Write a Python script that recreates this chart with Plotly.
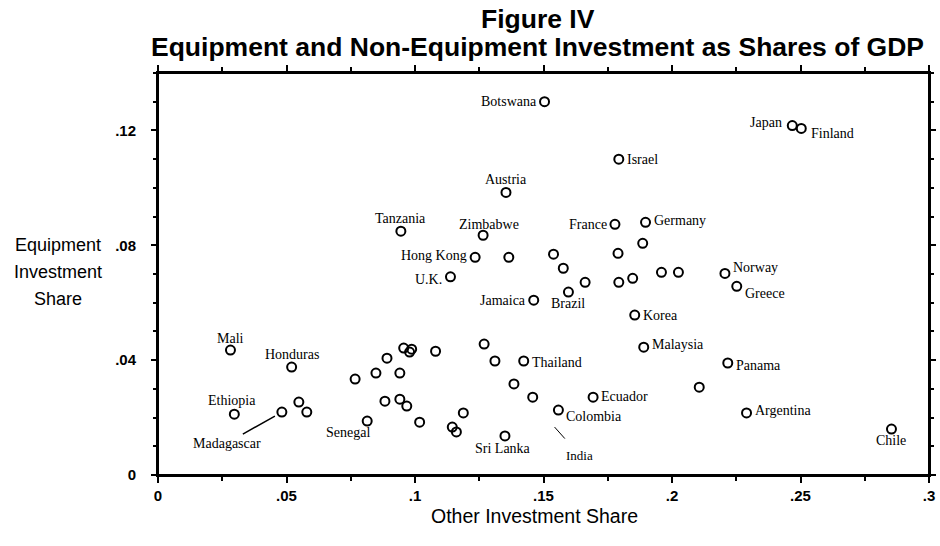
import plotly.graph_objects as go

# ---- data ----
countries = ["Botswana", "Japan", "Finland", "Israel", "Austria", "Tanzania", "Zimbabwe",
             "France", "Germany", "", "", "", "Hong Kong", "", "", "", "", "Norway", "U.K.",
             "", "", "", "Greece", "Brazil", "Jamaica", "Korea", "Malaysia", "Thailand",
             "Panama", "", "Ecuador", "", "Colombia", "Argentina", "Chile", "Sri Lanka",
             "Mali", "Honduras", "Ethiopia", "Madagascar", "", "", "", "", "", "", "", "",
             "", "", "", "", "", "Senegal", "", "", "", "", "", "", ""]
other_share = [0.1504, 0.2468, 0.2503, 0.1793, 0.1354, 0.0945, 0.1265,
               0.1778, 0.1897, 0.1886, 0.1790, 0.1539, 0.1234, 0.1365, 0.1577, 0.1959, 0.2025, 0.2206, 0.1138,
               0.1662, 0.1793, 0.1847, 0.2252, 0.1597, 0.1462, 0.1855, 0.1890, 0.1423,
               0.2217, 0.2106, 0.1693, 0.1458, 0.1558, 0.2290, 0.2854, 0.1350,
               0.0282, 0.0520, 0.0297, 0.0482, 0.0548, 0.0579, 0.0767, 0.0848, 0.0891, 0.0941, 0.0956, 0.0979,
               0.0987, 0.1080, 0.0883, 0.0941, 0.0968, 0.0814, 0.1018, 0.1145, 0.1161, 0.1188, 0.1269, 0.1311, 0.1385]
equip_share = [0.1300, 0.1217, 0.1207, 0.1100, 0.0984, 0.0849, 0.0835,
               0.0873, 0.0880, 0.0807, 0.0772, 0.0769, 0.0758, 0.0758, 0.0720, 0.0706, 0.0706, 0.0702, 0.0690,
               0.0671, 0.0671, 0.0685, 0.0657, 0.0637, 0.0609, 0.0557, 0.0445, 0.0397,
               0.0390, 0.0306, 0.0271, 0.0271, 0.0226, 0.0216, 0.0160, 0.0136,
               0.0435, 0.0376, 0.0212, 0.0219, 0.0254, 0.0219, 0.0334, 0.0355, 0.0407, 0.0355, 0.0442, 0.0428,
               0.0438, 0.0431, 0.0257, 0.0264, 0.0240, 0.0188, 0.0184, 0.0167, 0.0150, 0.0216, 0.0456, 0.0397, 0.0317]
india_point = [0.1543, 0.0167]

x_tickvals = [0, 0.05, 0.1, 0.15, 0.2, 0.25, 0.3]
x_ticktext = ["0", ".05", ".1", ".15", ".2", ".25", ".3"]
y_tickvals = [0, 0.04, 0.08, 0.12]
y_ticktext = ["0", ".04", ".08", ".12"]

title_lines = ["Figure IV", "Equipment and Non-Equipment Investment as Shares of GDP"]
y_title_lines = ["Equipment", "Investment", "Share"]
x_title = "Other Investment Share"

# ---- label placement (style) ----
label_pos = {
    "Botswana": ("right", -6, 0), "Japan": ("right", -8, 3), "Finland": ("left", 8, -5),
    "Israel": ("left", 6, 0), "Austria": ("center", 0, 13), "Tanzania": ("center", 0, 13),
    "Zimbabwe": ("center", 6, 11), "France": ("right", -6, 0), "Germany": ("left", 6, 2),
    "Hong Kong": ("right", -6, 2), "U.K.": ("right", -6, -3), "Jamaica": ("right", -6, 0),
    "Brazil": ("center", 0, -11), "Norway": ("left", 6, 6), "Greece": ("left", 6, -7),
    "Korea": ("left", 6, 0), "Malaysia": ("left", 6, 3), "Thailand": ("left", 6, -1),
    "Panama": ("left", 6, -2), "Ecuador": ("left", 6, 1), "Colombia": ("left", 6, -6),
    "Argentina": ("left", 6, 2), "Chile": ("center", 0, -11), "Sri Lanka": ("center", -2, -13),
    "Mali": ("center", 0, 12), "Honduras": ("center", 0, 13), "Ethiopia": ("center", -2, 14),
    "Senegal": ("right", 5, -11),
}
label_font = dict(family="Liberation Serif", size=14, color="black")

# plot area in the window: x 158..936, y 73..475
PL, PT, PW, PH = 158, 73, 778, 402
FIG_W, FIG_H = 940, 546


def px_x(wx):
    return (wx - PL) / PW


def px_y(wy):
    return (PT + PH - wy) / PH


fig = go.Figure()
fig.add_trace(go.Scatter(
    x=other_share, y=equip_share, mode="markers",
    marker=dict(symbol="circle-open", size=9, color="black", line=dict(width=2, color="black")),
    text=countries, hoverinfo="text+x+y", showlegend=False,
))

annotations = []
for name, xv, yv in zip(countries, other_share, equip_share):
    if name in label_pos:
        anc, dx, dy = label_pos[name]
        annotations.append(dict(x=xv, y=yv, xref="x", yref="y", text=name, showarrow=False,
                                xanchor=anc, yanchor="middle", xshift=dx, yshift=dy, font=label_font))
    elif name == "Madagascar":
        annotations.append(dict(x=xv, y=yv, xref="x", yref="y", text=name, showarrow=True,
                                arrowhead=0, arrowwidth=1.5, arrowcolor="black", ax=-55, ay=31,
                                standoff=8, font=label_font))

annotations.append(dict(x=india_point[0], y=india_point[1], xref="x", yref="y", text="India",
                        showarrow=True, arrowhead=0, arrowwidth=1, arrowcolor="black",
                        ax=25, ay=28, standoff=0, startstandoff=10,
                        font=dict(family="Liberation Serif", size=13, color="black")))

title_font = dict(family="Liberation Sans", size=26.5, color="black", weight="bold")
for line, wy in zip(title_lines, [19, 47]):
    annotations.append(dict(text=line, xref="paper", yref="paper", x=px_x(541), y=px_y(wy),
                            xanchor="center", yanchor="middle", showarrow=False, font=title_font))

axis_title_font = dict(family="Liberation Sans", size=18, color="black")
for line, wy in zip(y_title_lines, [245, 272, 299]):
    annotations.append(dict(text=line, xref="paper", yref="paper", x=px_x(57), y=px_y(wy),
                            xanchor="center", yanchor="middle", showarrow=False, font=axis_title_font))
annotations.append(dict(text=x_title, xref="paper", yref="paper", x=px_x(538), y=px_y(516),
                        xanchor="center", yanchor="middle", showarrow=False,
                        font=dict(family="Liberation Sans", size=19.5, color="black")))

fig.update_layout(
    width=FIG_W, height=FIG_H,
    margin=dict(l=PL, r=FIG_W - PL - PW, t=PT, b=FIG_H - PT - PH, pad=0),
    paper_bgcolor="white", plot_bgcolor="white",
    annotations=annotations,
    shapes=[dict(type="rect", xref="paper", yref="paper", x0=0, x1=1, y0=0, y1=1,
                 line=dict(color="black", width=2), layer="above")],
    xaxis=dict(range=[0, 0.3], showgrid=False, zeroline=False, showline=True, linecolor="black",
               linewidth=2, mirror="ticks", ticks="outside", ticklen=6, tickwidth=2, tickcolor="black",
               tickvals=x_tickvals, ticktext=x_ticktext,
               minor=dict(dtick=0.025, tick0=0, ticks="outside", ticklen=4, tickwidth=1.5, tickcolor="black"),
               tickfont=dict(family="Liberation Sans", size=15, color="black", weight="bold")),
    yaxis=dict(range=[0, 0.14], showgrid=False, zeroline=False, showline=True, linecolor="black",
               linewidth=2, mirror="ticks", ticks="outside", ticklen=5, tickwidth=2, tickcolor="black",
               tickvals=y_tickvals, ticktext=y_ticktext, ticklabelstandoff=12,
               minor=dict(dtick=0.01, tick0=0, ticks="outside", ticklen=3, tickwidth=1.5, tickcolor="black"),
               tickfont=dict(family="Liberation Sans", size=15, color="black", weight="bold")),
)

fig.write_html("out.html", config={"displayModeBar": False},
               post_script="document.body.style.margin='0px';document.body.style.overflow='hidden';")
